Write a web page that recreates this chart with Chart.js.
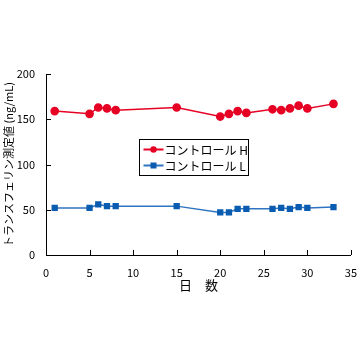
<!DOCTYPE html>
<html>
<head>
<meta charset="utf-8">
<script src="https://cdn.jsdelivr.net/npm/chart.js@4.4.1/dist/chart.umd.min.js"></script>
<style>
  html, body { margin: 0; padding: 0; background: #fff; }
  #wrap { width: 360px; height: 360px; }
</style>
</head>
<body>
<div id="wrap"><canvas id="lineChart" width="360" height="360"></canvas></div>
<script>
// 日数
var days = [1, 5, 6, 7, 8, 15, 20, 21, 22, 23, 26, 27, 28, 29, 30, 33];
// コントロール H / L の測定値 (ng/mL)
var controlH = [159, 156, 163, 162, 160, 163, 153, 156, 159, 157, 161, 160, 162, 165, 162, 167];
var controlL = [52, 52, 56, 54, 54, 54, 47, 47, 51, 51, 51, 52, 51, 53, 52, 53];
var xTicks = [0, 5, 10, 15, 20, 25, 30, 35];
var yTicks = [0, 50, 100, 150, 200];

var RED = '#e60024';
var BLUE = '#0a5cb0';
var JP = '"Noto Sans CJK JP", "Noto Sans", sans-serif';

function toPoints(ys) {
  return days.map(function (d, i) { return { x: d, y: ys[i] }; });
}

// 内向きの目盛り
var innerTicks = {
  id: 'innerTicks',
  afterDraw: function (chart) {
    var ctx = chart.ctx;
    var a = chart.chartArea;
    ctx.save();
    ctx.strokeStyle = '#000';
    ctx.lineWidth = 1;
    ctx.beginPath();
    xTicks.forEach(function (v) {
      var px = Math.round(chart.scales.x.getPixelForValue(v)) + 0.5;
      ctx.moveTo(px, a.bottom);
      ctx.lineTo(px, a.bottom - 5);
    });
    yTicks.forEach(function (v) {
      var py = Math.round(chart.scales.y.getPixelForValue(v)) + 0.5;
      ctx.moveTo(a.left, py);
      ctx.lineTo(a.left + 5, py);
    });
    ctx.stroke();
    ctx.restore();
  }
};

// 枠付き凡例 (グラフ内)
var boxLegend = {
  id: 'boxLegend',
  afterDraw: function (chart) {
    var ctx = chart.ctx;
    var bx = 139.5, by = 139.5, bw = 109, bh = 36;
    ctx.save();
    ctx.fillStyle = '#fff';
    ctx.fillRect(bx, by, bw, bh);
    ctx.strokeStyle = '#000';
    ctx.lineWidth = 1;
    ctx.strokeRect(bx, by, bw, bh);
    chart.data.datasets.forEach(function (ds, i) {
      var y = by + 10 + i * 16;
      ctx.strokeStyle = ds.borderColor;
      ctx.lineWidth = 2;
      ctx.beginPath();
      ctx.moveTo(bx + 4, y);
      ctx.lineTo(bx + 24, y);
      ctx.stroke();
      ctx.fillStyle = ds.pointBackgroundColor;
      if (ds.pointStyle === 'rect') {
        ctx.fillRect(bx + 11, y - 3, 6, 6);
      } else {
        ctx.beginPath();
        ctx.arc(bx + 14, y, 3.2, 0, Math.PI * 2);
        ctx.fill();
      }
      ctx.fillStyle = '#000';
      ctx.font = '12px ' + JP;
      ctx.textBaseline = 'middle';
      ctx.fillText(ds.label, bx + 25, y + 1);
    });
    ctx.restore();
  }
};

new Chart(document.getElementById('lineChart').getContext('2d'), {
  type: 'line',
  data: {
    datasets: [
      {
        label: 'コントロール H',
        data: toPoints(controlH),
        borderColor: RED,
        backgroundColor: RED,
        pointBackgroundColor: RED,
        pointBorderColor: RED,
        pointStyle: 'circle',
        pointRadius: 3.6,
        borderWidth: 1.5,
        tension: 0
      },
      {
        label: 'コントロール L',
        data: toPoints(controlL),
        borderColor: '#2f74c0',
        backgroundColor: BLUE,
        pointBackgroundColor: BLUE,
        pointBorderColor: BLUE,
        pointStyle: 'rect',
        pointRadius: 3.4,
        borderWidth: 1.5,
        tension: 0
      }
    ]
  },
  options: {
    responsive: false,
    animation: false,
    layout: { padding: { left: 0, right: 8, top: 74, bottom: 65 } },
    plugins: { legend: { display: false }, tooltip: { enabled: false } },
    scales: {
      x: {
        type: 'linear',
        min: 0,
        max: 35,
        afterBuildTicks: function (s) { s.ticks = xTicks.map(function (v) { return { value: v }; }); },
        afterFit: function (s) { s.height = 40; },
        border: { display: true, color: '#000', width: 1 },
        grid: { display: false },
        ticks: { color: '#000', font: { size: 11, family: JP }, padding: 3, maxRotation: 0 },
        title: { display: true, text: '日　数', color: '#000', font: { size: 13, family: JP }, padding: { top: 0, bottom: 2 } }
      },
      y: {
        min: 0,
        max: 200,
        afterBuildTicks: function (s) { s.ticks = yTicks.map(function (v) { return { value: v }; }); },
        afterFit: function (s) { s.width = 46; },
        border: { display: true, color: '#000', width: 1 },
        grid: { display: false },
        ticks: { color: '#000', font: { size: 11, family: JP }, padding: 3 },
        title: { display: true, text: 'トランスフェリン測定値 (ng/mL)', color: '#000', font: { size: 11, family: JP }, padding: { top: 2, bottom: 0 } }
      }
    }
  },
  plugins: [innerTicks, boxLegend]
});
</script>
</body>
</html>
